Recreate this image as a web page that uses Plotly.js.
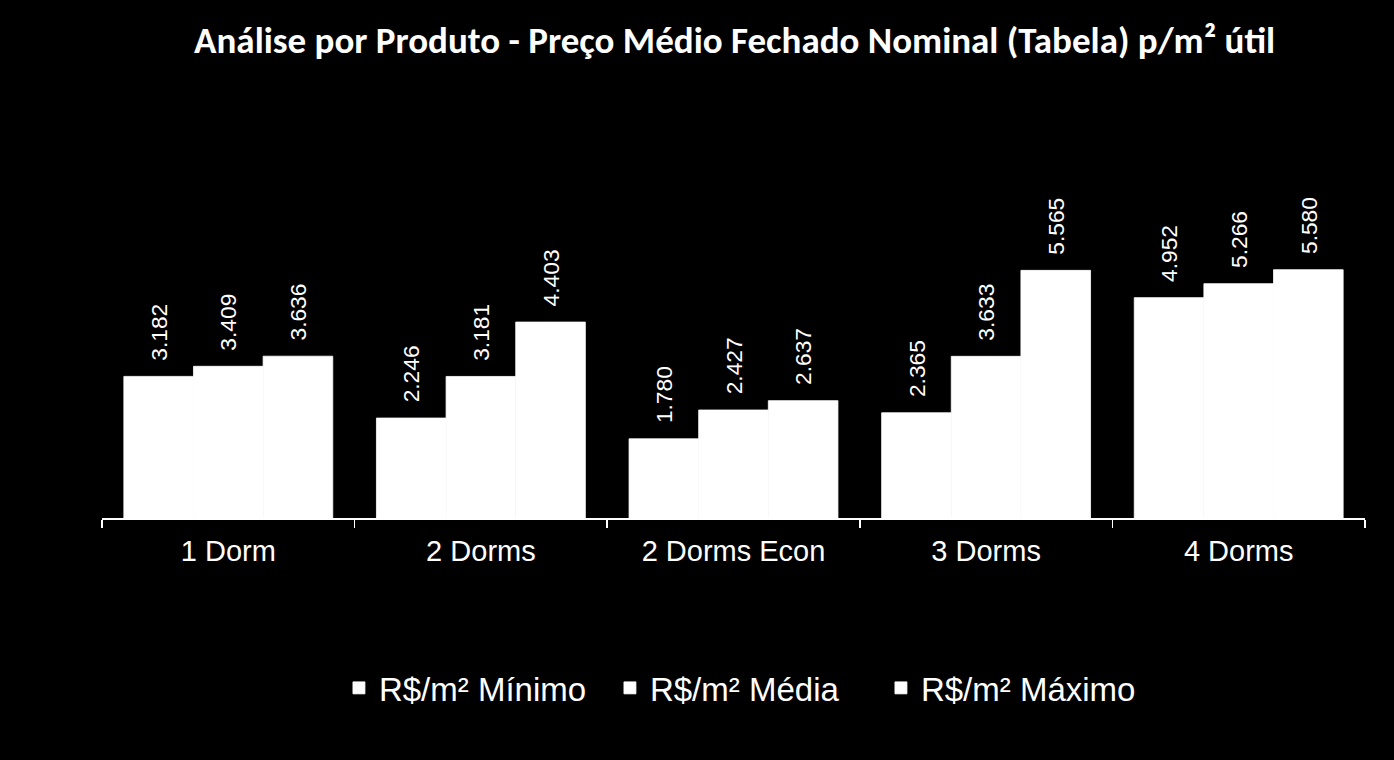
<!DOCTYPE html>
<html>
<head>
<meta charset="utf-8">
<script src="https://cdn.plot.ly/plotly-3.0.1.min.js"></script>
<style>
html,body{margin:0;padding:0;background:#000;}
#chart{width:1394px;height:760px;}
</style>
</head>
<body>
<div id="chart"></div>
<script>
var categories = ["1 Dorm", "2 Dorms", "2 Dorms Econ", "3 Dorms", "4 Dorms"];
var seriesNames = ["R$/m² Mínimo", "R$/m² Média", "R$/m² Máximo"];
var minimo = [3182, 2246, 1780, 2365, 4952];
var media = [3409, 3181, 2427, 3633, 5266];
var maximo = [3636, 4403, 2637, 5565, 5580];
var titleText = "Análise por Produto - Preço Médio Fechado Nominal (Tabela) p/m² útil";

var allSeries = [minimo, media, maximo];
var traces = allSeries.map(function (vals, i) {
  return {
    type: "bar",
    name: seriesNames[i],
    x: categories,
    y: vals,
    marker: {color: "#ffffff", line: {width: 0.8, color: "#ffffff"}},
    texttemplate: "\u00a0\u00a0%{y:,d}",
    textposition: "outside",
    textangle: -90,
    textfont: {family: "Liberation Sans, Arial, sans-serif", size: 25, color: "#ffffff"},
    cliponaxis: false,
    hoverinfo: "none"
  };
});

var layout = {
  width: 1394,
  height: 760,
  paper_bgcolor: "#000000",
  plot_bgcolor: "#000000",
  separators: ",.",
  margin: {l: 102, r: 29, t: 90, b: 242},
  barmode: "group",
  bargap: 0.173,
  bargroupgap: 0,
  title: {
    text: "<b>" + titleText + "</b>",
    font: {family: "Carlito, 'Open Sans', sans-serif", size: 37, color: "#ffffff"},
    x: 0.527, xanchor: "center",
    y: 0.947, yanchor: "middle"
  },
  xaxis: {
    type: "category",
    showline: true,
    linecolor: "#ffffff",
    linewidth: 1.5,
    ticks: "outside",
    tickson: "boundaries",
    ticklen: 8,
    tickcolor: "#ffffff",
    tickwidth: 1.5,
    ticklabelstandoff: 7,
    tickfont: {family: "Liberation Sans, Arial, sans-serif", size: 29, color: "#ffffff"},
    showgrid: false,
    zeroline: false
  },
  yaxis: {
    range: [0, 9618],
    visible: false,
    showgrid: false,
    zeroline: false
  },
  showlegend: true,
  legend: {
    orientation: "h",
    x: 0.1876, xanchor: "left",
    y: -0.397, yanchor: "middle",
    font: {family: "Liberation Sans, Arial, sans-serif", size: 33, color: "#ffffff"},
    bgcolor: "rgba(0,0,0,0)",
    itemwidth: 30,
    entrywidth: 226,
    entrywidthmode: "pixels",
    traceorder: "normal"
  }
};

Plotly.newPlot("chart", traces, layout, {displayModeBar: false, staticPlot: true});
</script>
</body>
</html>
